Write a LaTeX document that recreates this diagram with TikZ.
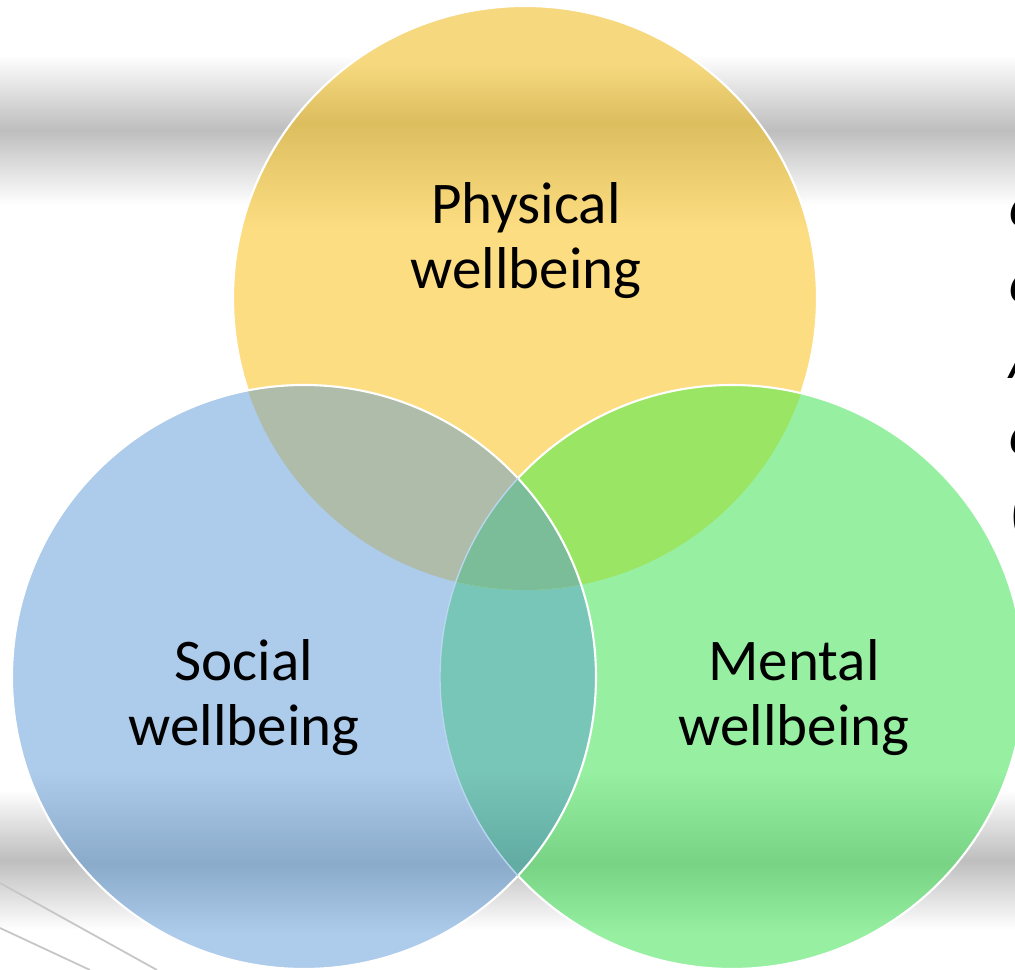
\documentclass[tikz,border=0pt]{standalone}
\usepackage{fontspec}
\setmainfont{Carlito}

\definecolor{ylw}{HTML}{FDDD81}
\definecolor{ylwdark}{HTML}{DCBE5F}
\definecolor{ylwtop}{HTML}{F6D87E}
\definecolor{blu}{HTML}{ADCBEA}
\definecolor{bludark}{HTML}{8BABCB}
\definecolor{grn}{HTML}{97F0A2}
\definecolor{grndark}{HTML}{78D385}
\definecolor{lens}{HTML}{78C6B8}
\definecolor{lensdark}{HTML}{62ACA3}
\definecolor{ylwblu}{HTML}{AEBCA9}
\definecolor{ylwgrn}{HTML}{9AE664}
\definecolor{allthree}{HTML}{7BBD98}
\definecolor{bandgray}{HTML}{BEBEBE}
\definecolor{rimblue}{HTML}{B9D5F0}

\pgfdeclareverticalshading{ylwband}{100bp}{color(0bp)=(ylw); color(25bp)=(ylw); color(56bp)=(ylw); color(65bp)=(ylwdark); color(70bp)=(ylwtop); color(75bp)=(ylwtop); color(100bp)=(ylwtop)}
\pgfdeclareverticalshading{bluband}{100bp}{color(0bp)=(blu); color(25bp)=(blu); color(28bp)=(blu); color(34bp)=(bludark); color(42bp)=(blu); color(100bp)=(blu)}
\pgfdeclareverticalshading{grnband}{100bp}{color(0bp)=(grn); color(25bp)=(grn); color(28bp)=(grn); color(34bp)=(grndark); color(42bp)=(grn); color(100bp)=(grn)}
\pgfdeclareverticalshading{lensband}{100bp}{color(0bp)=(lens); color(25bp)=(lens); color(28bp)=(lens); color(34bp)=(lensdark); color(42bp)=(lens); color(100bp)=(lens)}

\begin{document}
\begin{tikzpicture}[lbl/.style={font=\fontsize{16.8}{18.5}\selectfont, align=center, inner sep=0pt},
  rim/.style={white, line width=0.6pt}]
	
	\useasboundingbox (0,0) rectangle (10.15,9.70);
	\clip (0,0) rectangle (10.15,9.70);
	
	% background
	\fill[white] (0,0) rectangle (10.15,9.70);
	\shade[top color=white, bottom color=white, middle color=bandgray] (0,7.65) rectangle (10.15,9.15);
	\shade[top color=white, bottom color=white, middle color=bandgray] (0,0.40) rectangle (10.15,1.80);
	\draw[gray!45, line width=0.5pt] (0,0.87) -- (1.57,0);
	\draw[gray!45, line width=0.5pt] (0,0.42) -- (0.90,0);
	
	\coordinate (phys) at (5.25,6.72);
	\coordinate (soc) at (3.04,2.93);
	\coordinate (ment) at (7.32,2.93);
	\def\rad{2.92}
	
	\shade[shading=ylwband] (phys) circle[radius=\rad];
	\shade[shading=grnband] (ment) circle[radius=\rad];
	\shade[shading=bluband] (soc) circle[radius=\rad];
	
	\begin{scope}
		\clip (soc) circle[radius=\rad];
		\shade[shading=lensband] (ment) circle[radius=\rad];
	\end{scope}
	\begin{scope}
		\clip (phys) circle[radius=\rad];
		\fill[ylwblu] (soc) circle[radius=\rad];
		\fill[ylwgrn] (ment) circle[radius=\rad];
		\clip (soc) circle[radius=\rad];
		\fill[allthree] (ment) circle[radius=\rad];
	\end{scope}
	
	% white rims
	\draw[rim] (soc) circle[radius=\rad];
	\begin{scope}[even odd rule]
		\clip (0,0) rectangle (10.15,9.70) (soc) circle[radius=\rad];
		\draw[rim] (ment) circle[radius=\rad];
		\clip (0,0) rectangle (10.15,9.70) (ment) circle[radius=\rad];
		\draw[rim] (phys) circle[radius=\rad];
	\end{scope}
	\begin{scope}
		\clip (soc) circle[radius=\rad];
		\draw[rimblue, line width=0.4pt] (ment) circle[radius=\rad];
	\end{scope}
	
	\node[lbl] (physlbl) at (5.26,7.29) {Physical\\wellbeing};
	\node[lbl] (soclbl) at (2.44,2.72) {Social\\wellbeing};
	\node[lbl] (mentlbl) at (7.94,2.72) {Mental\\wellbeing};
	
	\node[font=\fontsize{16.8}{21.6}\selectfont\itshape, align=left, anchor=north west, inner sep=0pt] (sidetxt) at (10.09,7.73) {c\\c\\A\\c\\(};
	
\end{tikzpicture}
\end{document}
